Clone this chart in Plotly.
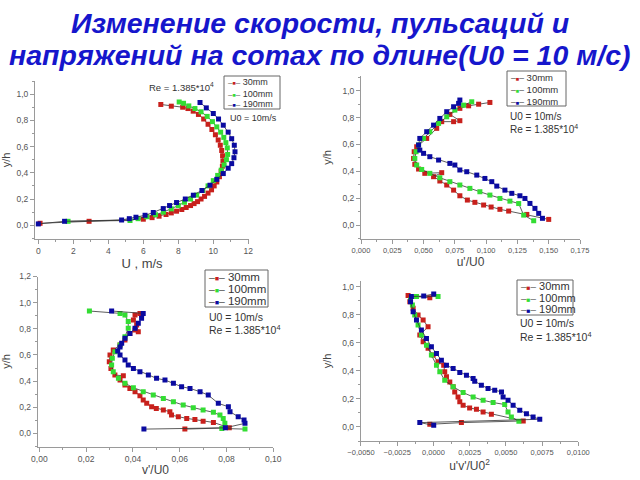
import plotly.graph_objects as go

# ---------------- data ----------------
series_names = ["30mm", "100mm", "190mm"]
colors = ["#C8201C", "#33DD33", "#0A0AA0"]

# Chart 1: U (m/s) vs y/h
u_red_x = [0.1, 2.9, 6.0, 6.5, 6.9, 7.3, 7.6, 7.9, 8.2, 8.45, 8.7, 8.9, 9.1, 9.3, 9.5, 9.7, 9.9, 10.05, 10.2, 10.35,
           10.45, 10.52, 10.55, 10.53, 10.48, 10.4, 10.28, 10.12, 9.92, 9.7, 9.45, 9.15, 8.85, 8.55, 8.25, 7.6, 7.0]
u_red_y = [0.015, 0.03, 0.046, 0.058, 0.069, 0.082, 0.094, 0.107, 0.12, 0.135, 0.15, 0.165, 0.18, 0.2, 0.22, 0.245, 0.27,
           0.3, 0.33, 0.37, 0.41, 0.45, 0.49, 0.53, 0.57, 0.61, 0.65, 0.69, 0.73, 0.77, 0.81, 0.845, 0.87, 0.89, 0.9, 0.908, 0.921]
u_grn_x = [1.7, 5.24, 5.7, 6.2, 6.7, 7.15, 7.6, 8.0, 8.35, 8.7, 9.05, 9.4, 9.7, 10.0, 10.25, 10.45, 10.62, 10.75, 10.82,
           10.8, 10.72, 10.6, 10.42, 10.2, 9.95, 9.65, 9.3, 8.95, 8.6, 8.3, 8.05]
u_grn_y = [0.03, 0.036, 0.05, 0.065, 0.08, 0.1, 0.125, 0.15, 0.175, 0.2, 0.23, 0.265, 0.3, 0.34, 0.38, 0.42, 0.46, 0.5, 0.54,
           0.59, 0.63, 0.67, 0.71, 0.75, 0.79, 0.83, 0.865, 0.89, 0.91, 0.93, 0.94]
u_blu_x = [0.0, 1.5, 4.76, 5.2, 5.58, 6.1, 6.57, 7.14, 7.5, 7.9, 8.4, 8.86, 9.35, 9.81, 10.2, 10.57, 10.85, 11.05, 11.18,
           11.24, 11.2, 11.05, 10.85, 10.57, 10.3, 10.0, 9.6, 9.24]
u_blu_y = [0.01, 0.03, 0.04, 0.05, 0.061, 0.076, 0.097, 0.127, 0.15, 0.173, 0.2, 0.229, 0.265, 0.305, 0.35, 0.394, 0.435,
           0.47, 0.515, 0.56, 0.61, 0.66, 0.71, 0.763, 0.81, 0.852, 0.895, 0.936]

# Chart 2: u'/U0 vs y/h
up_red_x = [0.150, 0.1325, 0.118, 0.111, 0.104, 0.098, 0.091, 0.085, 0.079, 0.074, 0.0685, 0.063, 0.058, 0.0645, 0.051,
            0.046, 0.043, 0.042, 0.0425, 0.0445, 0.0525, 0.0605, 0.0645, 0.074, 0.079, 0.071, 0.079, 0.086, 0.094, 0.103]
up_red_y = [0.042, 0.079, 0.104, 0.117, 0.134, 0.149, 0.169, 0.186, 0.218, 0.26, 0.298, 0.328, 0.36, 0.39, 0.385, 0.417,
            0.452, 0.496, 0.546, 0.583, 0.645, 0.72, 0.77, 0.77, 0.777, 0.824, 0.869, 0.888, 0.9, 0.913]
up_grn_x = [0.138, 0.130, 0.126, 0.119, 0.111, 0.103, 0.095, 0.087, 0.079, 0.071, 0.063, 0.055, 0.0485, 0.0445, 0.043,
            0.044, 0.046, 0.050, 0.055, 0.062, 0.0685, 0.075, 0.082, 0.0885]
up_grn_y = [0.032, 0.074, 0.16, 0.178, 0.198, 0.223, 0.248, 0.273, 0.298, 0.323, 0.352, 0.385, 0.414, 0.447, 0.496, 0.546,
            0.596, 0.645, 0.695, 0.757, 0.806, 0.856, 0.893, 0.918]
up_blu_x = [0.145, 0.142, 0.139, 0.135, 0.131, 0.127, 0.1205, 0.115, 0.1085, 0.1045, 0.099, 0.0925, 0.0845, 0.079, 0.075,
            0.071, 0.062, 0.055, 0.050, 0.047, 0.046, 0.047, 0.0525, 0.058, 0.063, 0.0685, 0.074, 0.078, 0.079]
up_blu_y = [0.05, 0.087, 0.124, 0.161, 0.198, 0.218, 0.236, 0.26, 0.29, 0.323, 0.347, 0.372, 0.397, 0.41, 0.447, 0.459,
            0.484, 0.509, 0.534, 0.558, 0.596, 0.645, 0.695, 0.744, 0.794, 0.844, 0.881, 0.906, 0.931]

# Chart 3: v'/U0 vs y/h
vp_red_x = [0.0622, 0.0812, 0.0744, 0.070, 0.0665, 0.063, 0.0594, 0.0565, 0.0558, 0.053, 0.050, 0.048, 0.0459, 0.0444,
            0.043, 0.0409, 0.0387, 0.0366, 0.0345, 0.0359, 0.0323, 0.0306, 0.0299, 0.0302, 0.0316, 0.0345, 0.0366, 0.0387,
            0.0409, 0.0423, 0.0416, 0.0402, 0.0409, 0.043, 0.0437]
vp_red_y = [0.033, 0.043, 0.084, 0.094, 0.107, 0.115, 0.128, 0.14, 0.166, 0.179, 0.191, 0.204, 0.23, 0.255, 0.288, 0.319,
            0.344, 0.37, 0.408, 0.441, 0.446, 0.497, 0.548, 0.599, 0.638, 0.676, 0.714, 0.765, 0.79, 0.778, 0.829, 0.867,
            0.906, 0.918, 0.906]
vp_grn_x = [0.0879, 0.078, 0.0793, 0.0786, 0.0772, 0.0744, 0.070, 0.0658, 0.0615, 0.0573, 0.053, 0.0487, 0.0444, 0.0402,
            0.0366, 0.0338, 0.0316, 0.0309, 0.0312, 0.0323, 0.0345, 0.0366, 0.038, 0.038, 0.0366, 0.0345, 0.0214]
vp_grn_y = [0.033, 0.038, 0.077, 0.115, 0.14, 0.161, 0.179, 0.196, 0.217, 0.242, 0.268, 0.293, 0.319, 0.349, 0.383, 0.421,
            0.472, 0.523, 0.574, 0.625, 0.676, 0.74, 0.804, 0.855, 0.906, 0.918, 0.936]
vp_blu_x = [0.0447, 0.0795, 0.0879, 0.0875, 0.085, 0.0815, 0.0808, 0.0765, 0.0722, 0.0687, 0.0644, 0.0608, 0.0573, 0.0537,
            0.0501, 0.0466, 0.043, 0.0402, 0.038, 0.0366, 0.0345, 0.0335, 0.0345, 0.0352, 0.0366, 0.0387, 0.0409, 0.0423,
            0.0437, 0.0444, 0.0309]
vp_blu_y = [0.033, 0.043, 0.077, 0.102, 0.128, 0.166, 0.204, 0.23, 0.293, 0.319, 0.344, 0.357, 0.383, 0.408, 0.421, 0.446,
            0.472, 0.497, 0.523, 0.561, 0.599, 0.63, 0.66, 0.689, 0.727, 0.765, 0.804, 0.842, 0.88, 0.918, 0.936]

# Chart 4: u'v'/U0^2 vs y/h
uv_red_x = [-0.00025, 0.00193, 0.0062, 0.0040, 0.00343, 0.00297, 0.0025, 0.00205, 0.00182, 0.0017, 0.00147, 0.00136,
            0.00113, 0.0009, 0.00078, 0.00071, 0.00032, -0.00002, -0.00037, -0.00071, -0.00094, -0.00037, -0.00071,
            -0.00106, -0.0014, -0.00163, -0.00175, -0.00025]
uv_red_y = [0.019, 0.031, 0.043, 0.09, 0.107, 0.126, 0.136, 0.155, 0.179, 0.214, 0.25, 0.286, 0.321, 0.357, 0.393, 0.44,
            0.464, 0.512, 0.56, 0.607, 0.655, 0.714, 0.762, 0.798, 0.845, 0.893, 0.936, 0.921]
uv_grn_x = [0.0059, 0.00538, 0.00515, 0.00492, 0.00412, 0.00343, 0.00274, 0.00205, 0.00136, 0.00078, 0.00044, 0.00021,
            -0.00014, -0.00048, -0.00083, -0.00106, -0.00129, -0.00145, -0.00158, -0.00117, 0.00032]
uv_grn_y = [0.04, 0.071, 0.107, 0.16, 0.174, 0.19, 0.214, 0.245, 0.286, 0.333, 0.393, 0.44, 0.512, 0.583, 0.655, 0.726,
            0.798, 0.869, 0.905, 0.929, 0.929]
uv_blu_x = [0.00002, -0.00094, 0.00734, 0.00688, 0.00642, 0.00596, 0.0055, 0.00515, 0.00481, 0.0047, 0.00423, 0.00377,
            0.00331, 0.00285, 0.00274, 0.00228, 0.00182, 0.00136, 0.0009, 0.00055, 0.00021, -0.00014, -0.00048, -0.00083,
            -0.00117, -0.0014, -0.00158, -0.00152, -0.00067, 0.00002]
uv_blu_y = [0.012, 0.031, 0.055, 0.071, 0.095, 0.119, 0.155, 0.19, 0.214, 0.25, 0.262, 0.274, 0.298, 0.326, 0.345, 0.369,
            0.388, 0.417, 0.44, 0.476, 0.524, 0.571, 0.631, 0.69, 0.762, 0.821, 0.893, 0.929, 0.933, 0.948]

title_line1 = "Изменение скорости, пульсаций и"
title_line2 = "напряжений на сотах по длине(U0 = 10 м/с)"
note_u0 = "U0 = 10m/s"
note_re = "Re = 1.385*10<sup>4</sup>"

# ---------------- figure ----------------
W, H = 640, 480
fig = go.Figure()


def px_x(p):
    return p / W


def px_y(p):
    return 1 - p / H


FONT = "Liberation Sans, Arial, sans-serif"

panels = [
    dict(data=[(u_red_x, u_red_y), (u_grn_x, u_grn_y), (u_blu_x, u_blu_y)],
         xdom=(35, 249), ydom=(81, 239), xr=[-0.19, 12.04], yr=[-0.105, 1.1],
         xd=2, xf="d", xminor=1, yd=0.2, yf=".1f", xtitle="U , m/s", xts=8.5, tts=13,
         box=(224, 76, 280, 109), rows=(82, 93.5, 104), lfs=9,
         notes=[(note_re, 147, 87, 9.5), (note_u0, 228, 118, 9)]),
    dict(data=[(up_red_x, up_red_y), (up_grn_x, up_grn_y), (up_blu_x, up_blu_y)],
         xdom=(361, 580), ydom=(76, 239), xr=[0, 0.175], yr=[-0.104, 1.11],
         xd=0.025, xf=".3f", xminor=0.0125, yd=0.2, yf=".1f", xtitle="u'/U0", xts=7.5, tts=12,
         box=(507, 71, 566, 106), rows=(77, 89, 101), lfs=9.5,
         notes=[(note_u0, 508, 116, 10), (note_re, 508, 129, 10)]),
    dict(data=[(vp_red_x, vp_red_y), (vp_grn_x, vp_grn_y), (vp_blu_x, vp_blu_y)],
         xdom=(37.7, 273.3), ydom=(276.5, 446.5), xr=[-0.0007, 0.1], yr=[-0.1, 1.2],
         xd=0.02, xf=".2f", xminor=0.01, yd=0.2, yf=".1f", xtitle="v'/U0", xts=8.5, tts=12,
         box=(205, 270, 268, 307), rows=(277, 289, 301), lfs=11.5,
         notes=[(note_u0, 207, 317, 10.5), (note_re, 207, 329, 10.5)]),
    dict(data=[(uv_red_x, uv_red_y), (uv_grn_x, uv_grn_y), (uv_blu_x, uv_blu_y)],
         xdom=(360.7, 578.3), ydom=(281, 441), xr=[-0.00502, 0.01], yr=[-0.1, 1.04],
         xd=0.0025, xf=".4f", xminor=0.00125, yd=0.2, yf=".1f", xtitle="u'v'/U0<sup>2</sup>", xts=7.5, tts=12,
         box=(517, 280, 573, 315), rows=(286, 297.5, 309), lfs=11,
         notes=[(note_u0, 518, 323, 10.5), (note_re, 518, 336, 10.5)]),
]

axis_color = "#9A9A9A"

layout = {}
annotations = []
shapes = []
for i, p in enumerate(panels):
    n = "" if i == 0 else str(i + 1)
    for j, (xs, ys) in enumerate(p["data"]):
        fig.add_trace(go.Scatter(
            x=xs, y=ys, mode="lines+markers", name=series_names[j],
            line=dict(color="#333333", width=0.8),
            marker=dict(symbol="square", size=5, color=colors[j]),
            xaxis="x" + n, yaxis="y" + n, showlegend=False))
    layout["xaxis" + n] = dict(
        domain=[px_x(p["xdom"][0]), px_x(p["xdom"][1])], anchor="y" + n, range=p["xr"], automargin=False,
        showline=True, linecolor=axis_color, linewidth=1, showgrid=False, zeroline=False,
        ticks="outside", ticklen=4, tickcolor=axis_color, dtick=p["xd"], tick0=0, tickformat=p["xf"],
        tickfont=dict(family=FONT, size=p["xts"], color="#555555"),
        title=dict(text=p["xtitle"], font=dict(family=FONT, size=p["tts"], color="#444444"), standoff=2),
        minor=dict(ticks="outside", ticklen=2, tickcolor=axis_color, dtick=p["xminor"]))
    layout["yaxis" + n] = dict(
        domain=[px_y(p["ydom"][1]), px_y(p["ydom"][0])], anchor="x" + n, range=p["yr"], automargin=False,
        showline=True, linecolor=axis_color, linewidth=1, showgrid=False, zeroline=False,
        ticks="outside", ticklen=4, tickcolor=axis_color, dtick=p["yd"], tick0=0, tickformat=p["yf"],
        tickfont=dict(family=FONT, size=8.5, color="#555555"),
        title=dict(text="y/h", font=dict(family=FONT, size=11, color="#444444"), standoff=8),
        minor=dict(ticks="outside", ticklen=2, tickcolor=axis_color, dtick=0.1))
    # legend frame and entries
    bx0, by0, bx1, by1 = p["box"]
    shapes.append(dict(type="rect", xref="paper", yref="paper", x0=px_x(bx0), x1=px_x(bx1),
                       y0=px_y(by1), y1=px_y(by0), line=dict(color="#666666", width=1),
                       fillcolor="white", layer="above"))
    for j, name in enumerate(series_names):
        txt = ("<span style='color:#555555;font-size:%gpx'>–</span>"
               "<span style='color:%s;font-size:%gpx'>■</span>"
               "<span style='color:#555555;font-size:%gpx'>–</span> %s") % (
            p["lfs"] * 0.9, colors[j], p["lfs"] * 0.6, p["lfs"] * 0.9, name)
        annotations.append(dict(text=txt, x=px_x(bx0 + 2), y=px_y(p["rows"][j]), xref="paper", yref="paper",
                                xanchor="left", yanchor="middle", showarrow=False,
                                font=dict(family=FONT, size=p["lfs"], color="#333333")))
    for (t, x, y, fs) in p["notes"]:
        annotations.append(dict(text=t, x=px_x(x), y=px_y(y), xref="paper", yref="paper",
                                xanchor="left", yanchor="middle", showarrow=False,
                                font=dict(family=FONT, size=fs, color="#333333")))

title_font = dict(family=FONT, size=28.5, color="#1616CC")
annotations.append(dict(text="<b><i>" + title_line1 + "</i></b>", x=0.5, y=px_y(23), xref="paper", yref="paper",
                        xanchor="center", yanchor="middle", showarrow=False, font=title_font))
annotations.append(dict(text="<b><i>" + title_line2 + "</i></b>", x=0.5, y=px_y(55), xref="paper", yref="paper",
                        xanchor="center", yanchor="middle", showarrow=False, font=title_font))

fig.update_layout(
    width=W, height=H, margin=dict(l=0, r=0, t=0, b=0),
    paper_bgcolor="white", plot_bgcolor="white", showlegend=False,
    separators=", ", annotations=annotations, shapes=shapes, **layout)

fig.write_html("out.html", config={"displayModeBar": False},
               post_script="document.body.style.margin='0';document.body.style.overflow='hidden';")
